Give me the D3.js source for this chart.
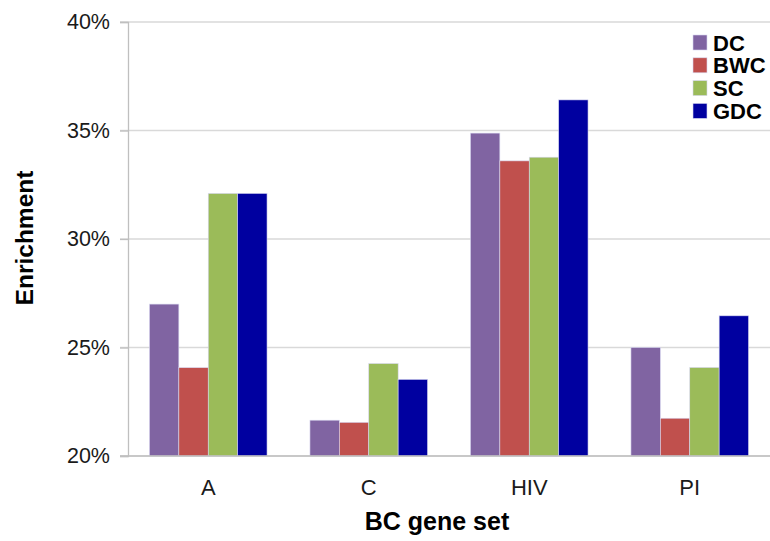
<!DOCTYPE html>
<html><head><meta charset="utf-8">
<script src="https://cdn.jsdelivr.net/npm/d3@7"></script>
<style>body{margin:0;background:#fff}svg{display:block;font-family:"Liberation Sans",Arial,sans-serif}</style>
</head><body>
<svg id="c" width="770" height="541"></svg>
<script>
const categories = ["A","C","HIV","PI"];
const seriesNames = ["DC","BWC","SC","GDC"];
const DC  = [27.0, 21.65, 34.88, 25.0];
const BWC = [24.07, 21.55, 33.6, 21.74];
const SC  = [32.1, 24.26, 33.77, 24.08];
const GDC = [32.1, 23.53, 36.41, 26.46];
const yTicks = [20,25,30,35,40];
const colors = ["#8064A2","#C0504D","#9BBB59","#0000A0"];
const seriesVals = [DC,BWC,SC,GDC];

const svg = d3.select("#c");
const pLeft=128, pRight=770, pTop=22, pBottom=456;
const x0 = d3.scaleBand().domain(categories).range([pLeft,pRight]).padding(0);
const x1 = d3.scaleBand().domain(seriesNames).range([0,x0.bandwidth()]).paddingInner(0).paddingOuter(0.73);
const y = d3.scaleLinear().domain([20,40]).range([pBottom,pTop]);
const color = d3.scaleOrdinal().domain(seriesNames).range(colors);

// gridlines
svg.append("g").selectAll("line").data(yTicks).join("line")
  .attr("x1",120).attr("x2",pRight).attr("y1",d=>y(d)).attr("y2",d=>y(d))
  .attr("stroke","#d9d9d9").attr("stroke-width",1.3);

// y axis
const ya = svg.append("g").attr("transform",`translate(${pLeft},0)`)
  .call(d3.axisLeft(y).tickValues(yTicks).tickSize(8).tickPadding(10).tickFormat(d=>d+"%"));
ya.select(".domain").attr("stroke","#bfbfbf").attr("stroke-width",1.3);
ya.selectAll(".tick line").attr("stroke","#bfbfbf").attr("stroke-width",1.3);
ya.selectAll("text").attr("font-size",21.5).attr("fill","#1a1a1a").attr("font-family","Liberation Sans, Arial, sans-serif");

// bars
const data = [];
categories.forEach((c,i)=>seriesNames.forEach((s,j)=>data.push({c,s,v:seriesVals[j][i]})));
svg.append("g").selectAll("rect").data(data).join("rect")
  .attr("x",d=>x0(d.c)+x1(d.s)).attr("width",x1.bandwidth())
  .attr("y",d=>y(d.v)).attr("height",d=>y(20)-y(d.v))
  .attr("fill",d=>color(d.s)).attr("stroke","#d8d8f0").attr("stroke-width",0.6);

// x axis
const xa = svg.append("g").attr("transform",`translate(0,${pBottom})`)
  .call(d3.axisBottom(x0).tickSize(0).tickPadding(23));
xa.select(".domain").remove();
svg.append("line").attr("x1",120).attr("x2",pRight).attr("y1",y(20)).attr("y2",y(20))
  .attr("stroke","#bfbfbf").attr("stroke-width",1.3);
xa.selectAll("text").attr("font-size",22).attr("fill","#1a1a1a").attr("font-family","Liberation Sans, Arial, sans-serif");

// axis titles
svg.append("text").attr("x",437).attr("y",530).attr("text-anchor","middle")
  .attr("font-size",25).attr("font-weight","bold").text("BC gene set");
svg.append("text").attr("transform","translate(33,238) rotate(-90)").attr("text-anchor","middle")
  .attr("font-size",24.5).attr("font-weight","bold").text("Enrichment");

// legend
const lg = svg.append("g").selectAll("g").data(seriesNames).join("g")
  .attr("transform",(d,i)=>`translate(693,${35+i*22.8})`);
lg.append("rect").attr("width",14).attr("height",15).attr("fill",d=>color(d)).attr("stroke","#d8d8f0").attr("stroke-width",0.6);
lg.append("text").attr("x",20).attr("y",15.5).attr("font-size",22).attr("font-weight","bold").text(d=>d);
</script>
</body></html>
